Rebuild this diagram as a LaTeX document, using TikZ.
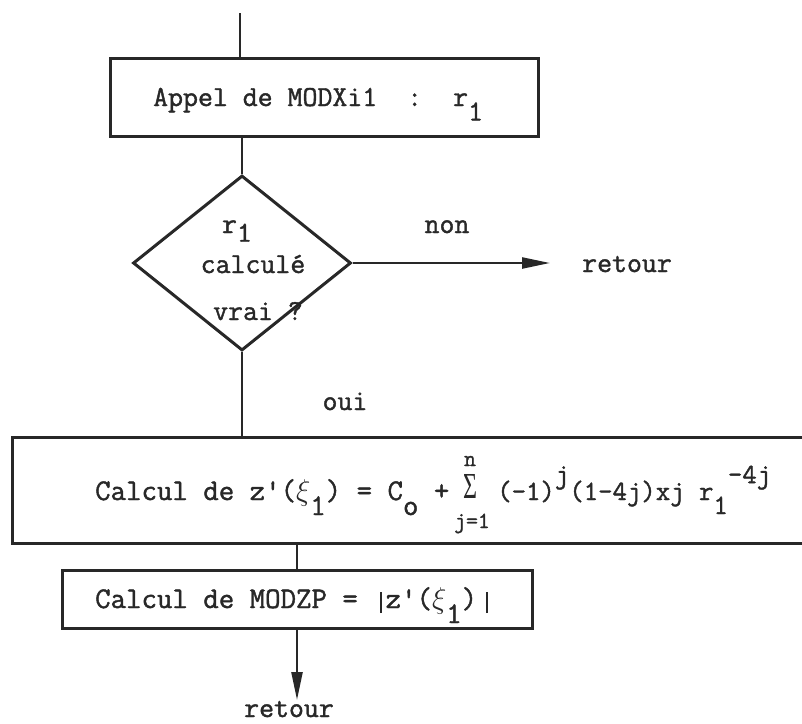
\RequirePackage{fix-cm}
\documentclass[tikz,border=0pt]{standalone}
\usepackage{graphicx}
\usepackage{fontspec}
\newfontfamily\twfont{Latin Modern Mono}[FakeBold=1.4]
\newfontfamily\sigfont{Liberation Serif}
\usetikzlibrary{shapes.geometric,arrows.meta}
\definecolor{ink}{RGB}{40,40,40}
\newcommand{\lowr}[1]{\raisebox{-0.5em}{#1}}
\newcommand{\lowd}[1]{\raisebox{-0.3em}{#1}}
\newcommand{\upr}[1]{\raisebox{0.6em}{#1}}
\newcommand{\vbar}{\raisebox{-5pt}{\rule{1.8pt}{21pt}}}
\tikzset{
  txt/.style={anchor=base west, inner sep=0pt, text=ink,
    font=\twfont\fontsize{29}{34}\selectfont},
  boxtxt/.style={txt, font=\twfont\fontsize{30}{34}\selectfont},
  smalltxt/.style={txt, anchor=base, font=\twfont\fontsize{23}{24}\selectfont},
  boxst/.style={draw=ink, line width=3pt, rectangle, inner sep=0pt},
  boxline/.style={draw=ink, line width=3pt},
  conn/.style={draw=ink, line width=2.4pt},
  arr/.style={conn, -{Triangle[length=28pt,width=11pt]}}
}
\begin{document}
\begin{tikzpicture}[x=1pt,y=-1pt]
\useasboundingbox (0,0) rectangle (802,723);
% box 1
\node[boxst, minimum width=428pt, minimum height=78pt] (appel) at (324,97) {};
\node[txt] (appelt) at (153,106) {Appel de MODXi1\hspace*{30pt}:\hspace*{31pt}r\lowr{1}};
% diamond
\node[diamond, draw=ink, line width=3pt, minimum width=218pt, minimum height=175pt, inner sep=0pt] (dia) at (242,263) {};
\node[txt, anchor=base] (d1) at (237,233) {r\lowd{1}};
\node[txt, anchor=base] (d2) at (253,273) {calculé};
\node[txt, anchor=base] (d3) at (258,320) {vrai ?};
% non branch
\node[txt, anchor=base] (non) at (447,233) {non};
\coordinate (nonend) at (550,263);
\node[txt] (ret1) at (582,272) {retour};
\node[txt, anchor=base] (oui) at (345,410) {oui};
% big box (open on the right)
\node[minimum width=790pt, minimum height=106pt, anchor=north west, inner sep=0pt] (calc) at (12,437) {};
\draw[boxline] (calc.north east) -- (calc.north west) -- (calc.south west) -- (calc.south east);
\node[boxtxt] (calcl) at (95,500) {Calcul de z\textquotesingle($\xi$\lowr{1}) = C\lowr{o} +};
\node[inner sep=0pt, text=ink] (sigma) at (470,486) {\resizebox*{14pt}{24pt}{\sigfont Σ}};
\node[smalltxt] (sigup) at (470,466) {n};
\node[smalltxt] (sigdn) at (472,528) {j=1};
\node[txt, font=\twfont\fontsize{28}{34}\selectfont] (calcr) at (497,500) {(-1)\upr{j}(1-4j)xj r\lowr{1}\upr{-4j}};
% small box
\node[boxst, minimum width=470pt, minimum height=58pt] (modzp) at (297,599) {};
\node[boxtxt] (modzpt) at (95,608) {Calcul de MODZP =\hspace*{22pt}\vbar\hspace*{4pt}z\textquotesingle($\xi$\lowr{1})\hspace*{9pt}\vbar};
\node[txt, anchor=base] (ret2) at (289,717) {retour};
% connectors
\coordinate (topend) at (240,13);
\draw[conn] (topend) -- (topend |- appel.north);
\draw[conn] (dia.north |- appel.south) -- (dia.north);
\draw[arr] (dia.east) -- (nonend);
\draw[conn] (dia.south) -- (dia.south |- calc.north);
\draw[conn] (modzp.north |- calc.south) -- (modzp.north);
\coordinate (endb) at (297,700);
\draw[arr] (modzp.south) -- (endb);
\end{tikzpicture}
\end{document}
